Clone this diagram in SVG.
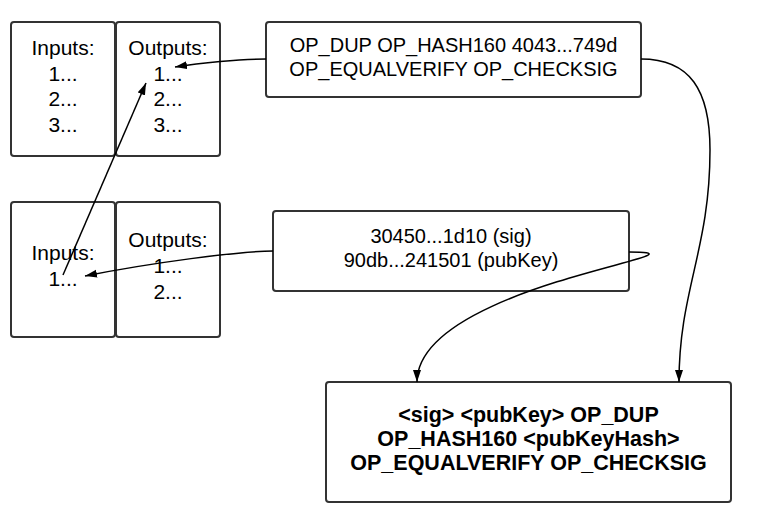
<svg xmlns="http://www.w3.org/2000/svg" width="764" height="525" viewBox="0 0 764 525">
<style>
.box{fill:#fff;stroke:#333;stroke-width:2}
.t{font-family:"Liberation Sans",Arial,sans-serif;font-size:20px;fill:#000;text-anchor:middle}
.tl{font-size:21px}
.b{font-weight:bold;font-size:21.5px}
.c{fill:none;stroke:#000;stroke-width:1.5;marker-end:url(#ah)}
</style>
<defs>
<marker id="ah" markerWidth="13" markerHeight="9" refX="12" refY="4" orient="auto" markerUnits="userSpaceOnUse">
<path d="M0,0 L12,4 L0,8 z" fill="#000"/>
</marker>
</defs>
<rect width="764" height="525" fill="#fff"/>
<g id="tx1-inputs">
<rect class="box" x="11" y="22" width="104" height="134" rx="3"/>
<text class="t tl" x="63" y="55">Inputs:</text>
<text class="t tl" x="63" y="80.7">1...</text>
<text class="t tl" x="63" y="106.3">2...</text>
<text class="t tl" x="63" y="132">3...</text>
</g>
<g id="tx1-outputs">
<rect class="box" x="116" y="22" width="104" height="134" rx="3"/>
<text class="t tl" x="168" y="55">Outputs:</text>
<text class="t tl" x="168" y="80.7">1...</text>
<text class="t tl" x="168" y="106.3">2...</text>
<text class="t tl" x="168" y="132">3...</text>
</g>
<g id="tx2-inputs">
<rect class="box" x="11" y="202" width="104" height="135" rx="3"/>
<text class="t tl" x="63" y="260">Inputs:</text>
<text class="t tl" x="63" y="286">1...</text>
</g>
<g id="tx2-outputs">
<rect class="box" x="116" y="202" width="104" height="135" rx="3"/>
<text class="t tl" x="168" y="247">Outputs:</text>
<text class="t tl" x="168" y="273">1...</text>
<text class="t tl" x="168" y="299">2...</text>
</g>
<g id="pubkey-script">
<rect class="box" x="266" y="22" width="375" height="75" rx="3"/>
<text class="t" x="453.5" y="52">OP_DUP OP_HASH160 4043...749d</text>
<text class="t" x="453.5" y="76">OP_EQUALVERIFY OP_CHECKSIG</text>
</g>
<g id="sig-script">
<rect class="box" x="273" y="211" width="356" height="80" rx="3"/>
<text class="t" x="451" y="243">30450...1d10 (sig)</text>
<text class="t" x="451" y="267">90db...241501 (pubKey)</text>
</g>
<g id="combined-script">
<rect class="box" x="326" y="382" width="405" height="120" rx="3"/>
<text class="t b" x="528.5" y="422">&lt;sig&gt; &lt;pubKey&gt; OP_DUP</text>
<text class="t b" x="528.5" y="446">OP_HASH160 &lt;pubKeyHash&gt;</text>
<text class="t b" x="528.5" y="470">OP_EQUALVERIFY OP_CHECKSIG</text>
</g>
<g id="connectors">
<path class="c" d="M266,59 C240,59 200,63 175,67"/>
<path class="c" d="M63,275 L146,83"/>
<path class="c" d="M273,251 C240,251 150,263 85,276"/>
<path class="c" d="M629,252 C730,252 417,285 417,382"/>
<path class="c" d="M641,59 C690,59 710,90 710,150 C710,250 679,290 679,382"/>
</g>
</svg>
